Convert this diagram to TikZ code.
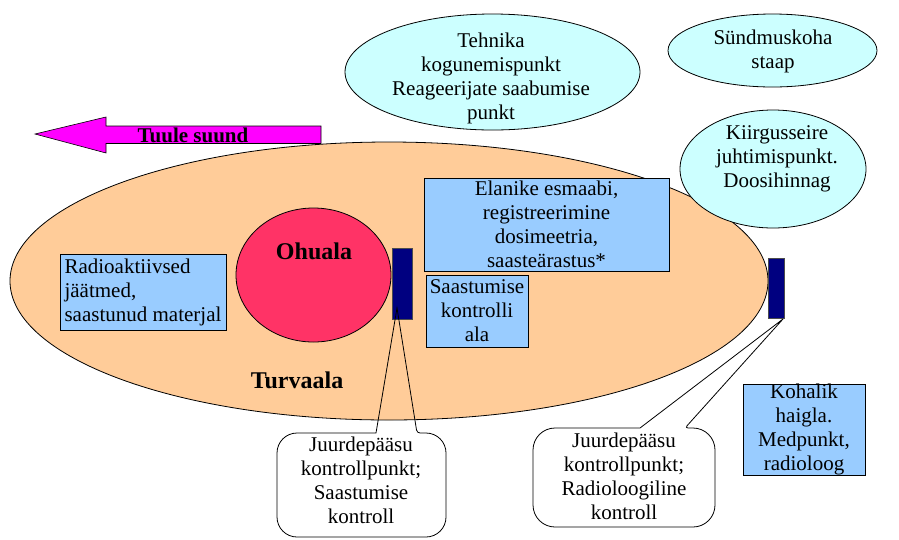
\documentclass[tikz,border=0pt]{standalone}
\usepackage{fontspec}
\setmainfont{Liberation Serif}
\newfontfamily\tnr{Liberation Serif}
\definecolor{peach}{HTML}{FFCC99}
\definecolor{hotred}{HTML}{FF3366}
\definecolor{lblue}{HTML}{99CCFF}
\definecolor{lcyan}{HTML}{CCFFFF}
\definecolor{navyb}{HTML}{000080}
\definecolor{magen}{HTML}{FF00FF}
\begin{document}
\begin{tikzpicture}[x=1pt,y=-1pt,
  every node/.style={font=\tnr\fontsize{21}{24}\selectfont, text=black},
  outl/.style={draw=black, line width=0.8pt},
  bluebox/.style={outl, fill=lblue, inner sep=0pt, align=center},
  darkrect/.style={draw=black!70, line width=0.6pt, fill=navyb, inner sep=0pt},
  bigtxt/.style={font=\tnr\fontsize{24}{28}\bfseries\selectfont},
  txt/.style={align=center, inner sep=0pt},
  calloutline/.style={draw=black, line width=0.8pt}
]
\useasboundingbox (0,0) rectangle (899,539);

% Turvaala
\path[outl, fill=peach] (389,281) ellipse [x radius=379, y radius=139];
% Ohuala
\path[outl, fill=hotred] (313.5,275) ellipse [x radius=77.5, y radius=67];
\node[bigtxt] (ohuala) at (314,251) {Ohuala};
\node[bigtxt] (turvaala) at (297,380) {Turvaala};

% wind arrow
\path[draw=black, line width=0.6pt, fill=magen]
  (35,134) -- (106,117) -- (106,126) -- (321,126) -- (321,143.5) -- (106,143.5) -- (106,153) -- cycle;
\node[font=\tnr\fontsize{21}{24}\bfseries\selectfont, inner sep=0pt] (tuule) at (193,135) {Tuule suund};

% blue boxes
\node[bluebox, align=left, minimum width=166, minimum height=76] (radio) at (143,292)
  {Radioaktiivsed\\jäätmed,\\saastunud materjal};
\node[bluebox, minimum width=245, minimum height=93] (elanike) at (546.5,224.5)
  {Elanike esmaabi,\\registreerimine\\dosimeetria,\\saasteärastus*};
\node[bluebox, minimum width=102, minimum height=72] (saast) at (477,311)
  {Saastumise\\kontrolli\\ala};
\node[bluebox, minimum width=122, minimum height=91] (kohalik) at (804,429.5)
  {Kohalik\\haigla.\\Medpunkt,\\radioloog};

% dark control points
\node[darkrect, minimum width=20, minimum height=71] (cp1) at (402,283.5) {};
\node[darkrect, minimum width=16, minimum height=60] (cp2) at (776,288) {};

% cyan ellipses
\path[outl, fill=lcyan] (492.5,72) ellipse [x radius=147.5, y radius=58];
\node[txt] (tehnika) at (491,78)
  {Tehnika\\kogunemispunkt\\Reageerijate saabumise\\punkt};
\path[outl, fill=lcyan] (772.5,50.5) ellipse [x radius=104.5, y radius=36.5];
\node[txt] (staap) at (773,51.5) {Sündmuskoha\\staap};
\path[outl, fill=lcyan] (773,169) ellipse [x radius=93, y radius=59];
\node[txt] (kiirgus) at (777,158.5) {Kiirgusseire\\juhtimispunkt.\\Doosihinnag};

% callout 1
\coordinate (tip1) at (397,308);
\draw[calloutline] (376,433) [rounded corners=20] -- (277,433) -- (277,537) -- (446,537) -- (446,433) [rounded corners=3] -- (417,433) [sharp corners] -- (tip1) -- cycle;
\node[txt] (call1) at (361,480)
  {Juurdepääsu\\kontrollpunkt;\\Saastumise\\kontroll};

% callout 2
\coordinate (tip2) at (783,319);
\draw[calloutline] (640,428) [rounded corners=22] -- (533,428) -- (533,527) -- (715,527) -- (715,428) [rounded corners=3] -- (685,428) [sharp corners] -- (tip2) -- cycle;
\node[txt] (call2) at (624,476)
  {Juurdepääsu\\kontrollpunkt;\\Radioloogiline\\kontroll};
\end{tikzpicture}
\end{document}
